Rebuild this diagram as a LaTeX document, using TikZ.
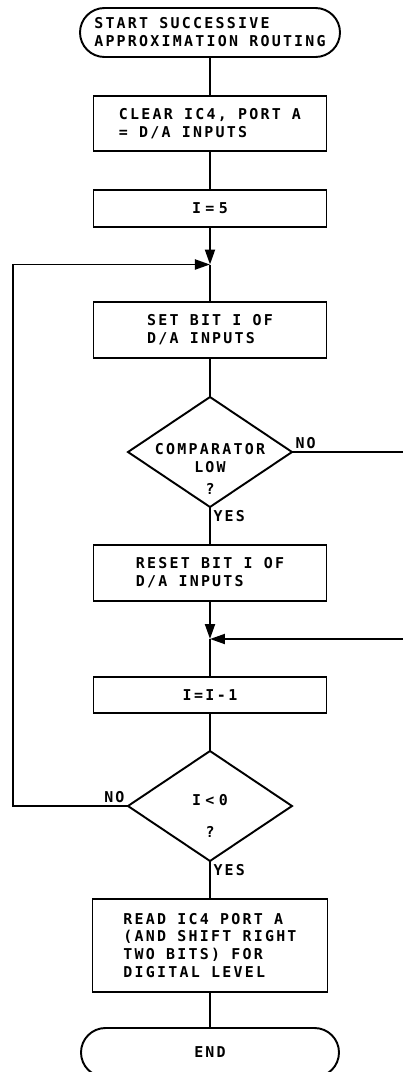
\documentclass[tikz,border=0pt]{standalone}
\usepackage{fontspec}
\setmainfont{DejaVu Sans Mono}[LetterSpace=15]
\usetikzlibrary{arrows.meta,positioning,shapes.geometric}
\newcommand{\sgap}{\hspace{0.3em}}

\begin{document}
\begin{tikzpicture}[node distance=0.78cm, line width=1.1pt, >={Triangle[length=3mm,width=2mm]},
  every node/.style={font=\fontsize{8.5}{10.2}\selectfont\bfseries, outer sep=0pt},
  box/.style={draw, rectangle, minimum width=4.66cm, align=left, inner sep=0pt},
  term/.style={draw, rectangle, rounded corners=4.9mm, minimum width=5.2cm, minimum height=0.98cm, align=left, inner sep=0pt},
  test/.style={draw, diamond, aspect=1.5, minimum width=3.28cm, minimum height=2.2cm, inner sep=0pt},
  testtext/.style={align=center, inner sep=0pt}]
\useasboundingbox (-4.2,0.65) rectangle (3.84,-20.79);
\node[term] (start) {START SUCCESSIVE\\APPROXIMATION ROUTING};
\node[box, minimum height=1.1cm, below=of start] (clear) {CLEAR IC4, PORT A\\= D/A INPUTS};
\node[box, minimum height=0.74cm, below=of clear] (init) {I\sgap=\sgap5};
\coordinate[below=0.75cm of init] (loop);
\node[box, minimum height=1.12cm, below=1.5cm of init] (set) {SET BIT I OF\\D/A INPUTS};
\node[test, below=of set, label={[testtext, yshift=-0.34cm]center:COMPARATOR\\LOW\\[2pt]?}] (comp) {};
\node[box, minimum height=1.12cm, below=0.76cm of comp] (reset) {RESET BIT I OF\\D/A INPUTS};
\coordinate[below=0.76cm of reset] (merge);
\node[box, minimum height=0.72cm, below=1.52cm of reset] (dec) {I\,=\,I\,-\,1};
\node[test, below=0.76cm of dec, label={[testtext, yshift=-0.2cm]center:I\sgap<\sgap0\\[8pt]?}] (check) {};
\node[box, minimum height=1.86cm, minimum width=4.7cm, below=0.76cm of check] (read) {READ IC4 PORT A\\(AND SHIFT RIGHT\\TWO BITS) FOR\\DIGITAL LEVEL};
\node[term, minimum width=5.16cm, below=0.72cm of read] (end) {END};
\draw (start) -- (clear);
\draw (clear) -- (init);
\draw[->] (init) -- (loop);
\draw (loop) -- (set);
\draw (set) -- (comp);
\draw (comp) -- node[below right, pos=0, inner sep=2pt] {YES} (reset);
\draw[->] (reset) -- (merge);
\draw (merge) -- (dec);
\draw (dec) -- (check);
\draw (check) -- node[below right, pos=0, inner sep=2pt] {YES} (read);
\draw (read) -- (end);
\draw[->] (comp.east) -- node[above right, pos=0, inner sep=2pt] {NO} ++(2.35,0) |- (merge);
\draw[->] (check.west) -- node[above left, pos=0, inner sep=2pt] {NO} ++(-2.3,0) |- (loop);
\end{tikzpicture}
\end{document}
